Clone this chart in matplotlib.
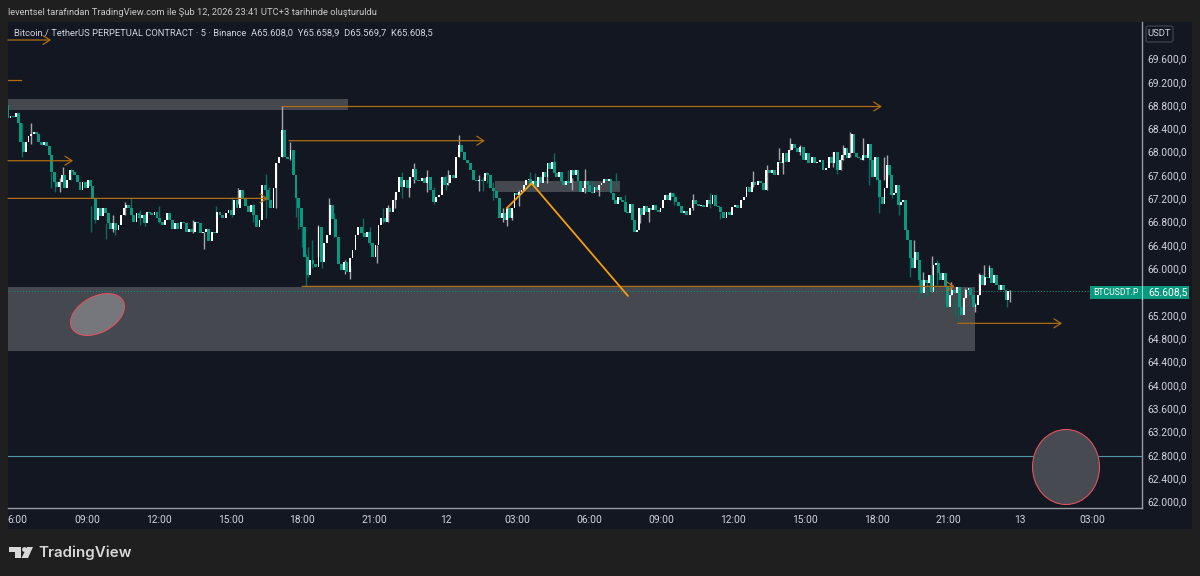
import matplotlib
matplotlib.use('Agg')
import matplotlib.pyplot as plt
from matplotlib.patches import Ellipse, Polygon, Rectangle, Circle, FancyBboxPatch
from matplotlib.transforms import Affine2D
import numpy as np

# time axis is hours since midnight of the 11th, 24 = "12", 48 = "13"
seg_hours = [5.70, 12.68, 19.62, 26.47, 33.36, 40.47, 47.60]
first_open = 68800

closes_1 = [68570, 68610, 68590, 68660, 68490, 68170, 68000, 68170, 68270, 68310, 68340, 68310, 68170,
            68110, 68170, 68090, 67940, 67660, 67480, 67400, 67480, 67600, 67370, 67510, 67690, 67660,
            67600, 67480, 67340, 67480, 67370, 67510, 67410, 67200, 66830, 67030, 66890, 67030, 66940,
            66770, 66680, 66770, 66660, 66740, 66910, 67030, 67080, 67030, 66910, 66800, 66940, 66860,
            66910, 66770, 66970, 66940, 66910, 66970, 66860, 66800, 66740, 66830, 66940, 66830, 66680]
closes_2 = [66770, 66680, 66800, 66770, 66630, 66680, 66630, 66800, 66770, 66600, 66630, 66680, 66460,
            66630, 66600, 66970, 66910, 66860, 66940, 67000, 66910, 67170, 67030, 67340, 67200, 67060,
            66970, 67080, 66910, 66710, 66830, 67430, 67340, 67170, 67030, 67370, 67800, 67910, 68380,
            67910, 67880, 68030, 67600, 67200, 67030, 66710, 66200, 65880, 66140, 66080, 66030, 66710,
            66100, 66430, 66570, 67080, 66850, 66540, 66080]
closes_3 = [65970, 66110, 65940, 66170, 66310, 66570, 66710, 66600, 66540, 66630, 66430, 66200, 66400,
            66740, 66860, 66800, 67030, 66970, 67170, 67310, 67570, 67400, 67510, 67370, 67570, 67710,
            67510, 67490, 67540, 67460, 67570, 67340, 67140, 67230, 67260, 67570, 67430, 67460, 67600,
            67540, 67910, 68110, 68000, 67860, 67800, 67690, 67510, 67490, 67520, 67490, 67630, 67600,
            67370, 67330, 67200, 66860, 66940]
closes_4 = [66830, 67030, 66860, 67030, 67290, 67250, 67310, 67340, 67430, 67510, 67530, 67430, 67490,
            67400, 67570, 67470, 67660, 67570, 67800, 67710, 67830, 67630, 67570, 67660, 67490, 67430,
            67490, 67460, 67690, 67600, 67690, 67490, 67310, 67370, 67490, 67430, 67310, 67290, 67400,
            67340, 67430, 67470, 67530, 67490, 67530, 67290, 67170, 67110, 67220, 67170, 67140, 66970,
            66940, 67110, 66830, 66630, 66660, 67030, 66910, 67060, 66970, 67030, 67000, 67080, 67000,
            66970, 67030, 67170, 67260, 67170]
closes_5 = [67285, 67230, 67140, 67060, 66940, 66980, 66910, 67030, 67170, 67110, 67060, 67085, 67045,
            67170, 67110, 67260, 67060, 67045, 66970, 66860, 66970, 66910, 67045, 67085, 67030, 67170,
            67230, 67400, 67310, 67485, 67430, 67500, 67460, 67350, 67685, 67630, 67685, 67600, 67830,
            67800, 67970, 67830, 68030, 68140, 68060, 68000, 68085, 67860, 67970, 67800, 67915, 67800,
            67830, 67860, 67685, 67715, 67915, 67800, 68000, 67685]
closes_6 = [67860, 67940, 68060, 67885, 67970, 68310, 67970, 67915, 67885, 67860, 67940, 67885, 68140,
            67860, 67570, 67915, 67510, 67230, 67110, 67370, 67770, 67600, 67260, 67285, 67430, 67085,
            67140, 67170, 66660, 66485, 66170, 66000, 66285, 66140, 65800, 65570, 65800, 65740, 65885,
            65600, 66055, 66085, 65915, 65800, 65915, 65685, 65340, 65540, 65625, 65570, 65685, 65340,
            65200, 65485, 65625, 65655, 65540, 65340, 65370, 65540, 65885, 65715, 65855, 65825, 66000,
            65740, 65885, 65715, 65625, 65715, 65625, 65455, 65608]
closes_by_seg = [closes_1, closes_2, closes_3, closes_4, closes_5, closes_6]

# the wicks that stick out
wick_hours = [6.29, 6.65, 7.51, 7.65, 7.86, 8.00, 8.35, 9.18, 9.35, 9.81, 10.09, 10.19, 10.60, 10.83, 11.20,
              11.44, 12.00, 13.45, 13.91, 14.38, 15.08, 15.33, 15.95, 16.47, 16.61, 16.89, 17.17, 17.49,
              17.72, 17.81, 17.97, 18.15, 18.22, 18.39, 18.67, 18.81, 19.12, 19.34, 19.78, 19.99, 20.55,
              20.82, 21.13, 21.38, 21.59, 21.87, 22.15, 22.47, 22.66, 23.22, 23.50, 24.00, 24.10, 24.54,
              25.39, 25.56, 25.70, 25.98, 26.37, 26.54, 26.78, 27.05, 27.51, 27.72, 28.21, 28.53, 29.09,
              29.26, 29.81, 30.12, 30.40, 31.12, 31.49, 32.11, 32.49, 33.37, 33.53, 34.33, 35.03, 35.45,
              36.84, 37.40, 37.92, 38.10, 38.40, 38.79, 40.19, 40.35, 40.51, 40.61, 40.89, 41.42, 41.70,
              42.11, 42.31, 42.42, 42.66, 42.92, 43.40, 43.56, 43.79, 43.95, 44.12, 44.33, 44.54, 44.90,
              45.09, 45.27, 45.41, 45.69, 45.93, 46.11, 46.28, 46.49, 46.70, 47.43, 47.57]
wick_highs = [68490, 68490, 67660, 67600, 67540, 67740, 67710, 67060, 67110, 66770, 66910, 66770, 67140, 67200,
              67000, 66940, 67060, 66830, 66630, 67060, 67230, 67370, 67110, 67620, 67400, 67800, 68780, 68170,
              67370, 67060, 66710, 66250, 66370, 66480, 66740, 66430, 67210, 66940, 66140, 66030, 66860,
              66710, 66400, 67030, 67085, 67260, 67660, 67570, 67800, 67685, 67400, 67600, 67685, 68285,
              67600, 67570, 67655, 67485, 67030, 67030, 67000, 67340, 67660, 67630, 67710, 67980, 67690,
              67540, 67710, 67490, 67430, 67630, 67260, 67030, 67030, 67310, 67285, 67275, 67285, 66970,
              67675, 67770, 68060, 67885, 68230, 68115, 68000, 67885, 67915, 68115, 68345, 68230, 67885,
              67370, 67915, 67940, 67485, 67200, 66315, 66485, 66000, 65940, 65770, 66210, 66140, 65655,
              65770, 65485, 65340, 65655, 65685, 65400, 65915, 66055, 66055, 65570, 65625]
wick_lows = [67910, 68140, 67370, 67300, 67310, 67510, 67510, 66630, 66770, 66500, 66630, 66570, 66910, 67000,
             66740, 66720, 66770, 66600, 66325, 66830, 66885, 67110, 66800, 66860, 67060, 67030, 67910, 67860,
             66885, 66680, 66370, 65700, 65850, 66000, 66200, 66000, 66630, 66540, 65910, 65810, 66570,
             66400, 66085, 66770, 66800, 67030, 67200, 67230, 67460, 67315, 67110, 67340, 67430, 67915,
             67330, 67330, 67460, 67170, 66800, 66725, 66830, 67060, 67400, 67370, 67460, 67690, 67370,
             67350, 67290, 67290, 67240, 67400, 67000, 66770, 66800, 67170, 67085, 67000, 67030, 66840,
             67400, 67340, 67860, 67615, 68030, 67945, 67740, 67615, 67685, 67855, 67915, 67855, 67430,
             66940, 67515, 67570, 67200, 66915, 65855, 66115, 65485, 65625, 65515, 65600, 65715, 65315,
             65540, 65185, 65085, 65485, 65485, 65255, 65540, 65715, 65885, 65340, 65425]

last_price = 65608
price_ticks = [62000, 62400, 62800, 63200, 63600, 64000, 64400, 64800, 65200, 66000, 66400, 66800,
               67200, 67600, 68000, 68400, 68800, 69200, 69600]
time_ticks = [6.1, 9, 12, 15, 18, 21, 24, 27, 30, 33, 36, 39, 42, 45, 48, 51]
time_labels = ['6:00', '09:00', '12:00', '15:00', '18:00', '21:00', '12', '03:00', '06:00', '09:00',
               '12:00', '15:00', '18:00', '21:00', '13', '03:00']

BG = '#1f1f1f'
PANEL = '#131722'
UP = '#ffffff'
DOWN = '#089981'
ORANGE = '#b06c10'
BOX = '#45484f'
FONT = 'Roboto'

plt.rcParams['font.family'] = FONT

fig = plt.figure(figsize=(12, 5.76), dpi=100, facecolor=BG)
px = Affine2D().scale(1, -1).translate(0, 576)  # image pixels, y down

fig.add_artist(Rectangle((8, 22), 1184, 507, transform=px, fc=PANEL, ec='none', zorder=-1))
ax = fig.add_axes([8 / 1200, (576 - 508) / 576, 1134 / 1200, 486 / 576], facecolor=PANEL)
ax.set_xlim(5.70, 53.09)
ax.set_ylim(61889, 70224)

# candles, each segment evenly spread between its edges
bar_t, bar_o, bar_c = [], [], []
prev = first_open
for i, seg in enumerate(closes_by_seg):
    ts = np.linspace(seg_hours[i], seg_hours[i + 1], len(seg), endpoint=False)
    for t, c in zip(ts, seg):
        bar_t.append(t)
        bar_o.append(prev)
        bar_c.append(c)
        prev = c
bar_t = np.array(bar_t)
bar_o = np.array(bar_o)
bar_c = np.array(bar_c)
is_up = bar_c >= bar_o

wick_colors = []
for t in wick_hours:
    wick_colors.append('#a4a6ac' if is_up[np.argmin(np.abs(bar_t - t))] else '#0c6b5e')
ax.vlines(wick_hours, wick_lows, wick_highs, colors=wick_colors, lw=1, zorder=5)
ax.bar(bar_t[is_up], (bar_c - bar_o)[is_up], bottom=bar_o[is_up], width=0.075, color=UP, lw=0, zorder=6)
ax.bar(bar_t[~is_up], (bar_o - bar_c)[~is_up], bottom=bar_c[~is_up], width=0.12, color=DOWN, lw=0, zorder=7)

# boxes
ax.add_patch(Rectangle((5.70, 68714), 14.21, 189, fc=BOX, ec='none', zorder=2))
ax.add_patch(Rectangle((5.70, 64581), 40.41, 1100, fc=BOX, ec='none', zorder=2))
ax.add_patch(Rectangle((26.05, 67313), 5.22, 184, fc=BOX, ec='none', zorder=2))


def arrow(x0, x1, y):
    ax.annotate('', xy=(x1, y), xytext=(x0, y), zorder=8,
                arrowprops=dict(arrowstyle='->,head_length=0.5,head_width=0.32', color=ORANGE, lw=0.9,
                                shrinkA=0, shrinkB=0))


arrow(5.70, 7.50, 69915)
arrow(5.70, 8.42, 67845)
arrow(5.70, 16.57, 67199)
arrow(17.15, 42.22, 68775)
arrow(17.44, 25.63, 68188)
arrow(17.99, 45.27, 65690)
arrow(45.40, 49.75, 65056)
ax.plot([5.70, 6.24], [69229, 69229], color=ORANGE, lw=0.9, zorder=8)
ax.plot([26.54, 27.58, 31.61], [67029, 67457, 65525], color='#f59d0e', lw=1.3, zorder=9, solid_capstyle='round')

# horizontal level and last price line
ax.axhline(62789, color='#4f97a8', lw=0.8, zorder=3)
ax.plot([5.70, 51.0], [last_price, last_price], color=DOWN, lw=0.7, ls=(0, (1, 2)), zorder=3)

ax.add_patch(Ellipse((97.5, 314.5), 58, 36, angle=-28, transform=px, fc='#75777c', ec='#e0525c', lw=0.8, zorder=4))
ax.add_patch(Ellipse((1066, 467), 67, 75, angle=0, transform=px, fc='#484a52', ec='#e0525c', lw=0.8, zorder=4))

# axes dressing
for side in ['top', 'left']:
    ax.spines[side].set_visible(False)
for side in ['bottom', 'right']:
    ax.spines[side].set_color('#9a9ca3')
    ax.spines[side].set_linewidth(1)
ax.yaxis.tick_right()
ax.set_yticks(price_ticks)
ax.set_yticklabels([f'{v:,.1f}'.replace(',', ' ').replace('.', ',').replace(' ', '.') for v in price_ticks])
ax.set_xticks(time_ticks)
ax.set_xticklabels(time_labels)
ax.tick_params(axis='both', length=0, colors='#d1d4dc', labelsize=7.4)
ax.tick_params(axis='y', pad=4)
ax.tick_params(axis='x', pad=5)

# price label
fig.add_artist(Rectangle((1090, 286), 99, 13, transform=px, fc='#0a9a80', ec='none', zorder=5))
fig.add_artist(plt.Line2D([1142, 1142], [286, 299], transform=px, color='#9fd4c8', lw=0.8, zorder=6))
fig.text(1093 / 1200, 1 - 292.5 / 576, 'BTCUSDT.P', color='white', fontsize=6.2, va='center', zorder=7)
fig.text(1148 / 1200, 1 - 292.5 / 576, '65.608,5', color='white', fontsize=7.4, va='center', zorder=7)

# USDT button
fig.add_artist(FancyBboxPatch((1146, 26), 27, 16, boxstyle='round,pad=0,rounding_size=2', transform=px,
                              fc=PANEL, ec='#3a3e48', lw=1, zorder=5))
fig.text(1159.5 / 1200, 1 - 34 / 576, 'USDT', color='#d1d4dc', fontsize=6.8, ha='center', va='center', zorder=7)

# header and legend
fig.text(8 / 1200, 1 - 12.5 / 576, 'leventsel tarafından TradingView.com ile Şub 12, 2026 23:41 UTC+3 tarihinde oluşturuldu',
         color='#c9c9c9', fontsize=6.75, va='center')
fig.text(14 / 1200, 1 - 33.5 / 576,
         'Bitcoin / TetherUS PERPETUAL CONTRACT · 5 · Binance  A65.608,0  Y65.658,9  D65.569,7  K65.608,5',
         color='#d1d4dc', fontsize=6.75, va='center', zorder=7)

# logo
LOGO = '#d8d8d8'
fig.add_artist(Polygon([(9, 547), (21, 547), (21, 558), (15, 558), (15, 552), (9, 552)], transform=px, fc=LOGO, ec='none'))
fig.add_artist(Circle((24.5, 549.5), 2.4, transform=px, fc=LOGO, ec='none'))
fig.add_artist(Polygon([(27, 547), (33, 547), (28, 558), (21.5, 558)], transform=px, fc=LOGO, ec='none'))
fig.text(38 / 1200, 1 - 552.5 / 576, 'TradingView', color=LOGO, fontsize=10.9, fontfamily='Inter', fontweight='semibold', va='center')

fig.savefig('out.png', dpi=100, facecolor=BG)
